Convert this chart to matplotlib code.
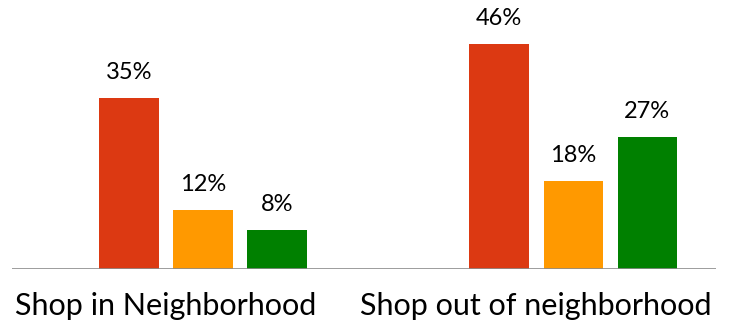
import matplotlib.pyplot as plt
import numpy as np

plt.rcParams['font.family'] = ['Lato', 'DejaVu Sans']

categories = ["Shop in Neighborhood", "Shop out of neighborhood"]
series_colors = ["#DC3912", "#FF9900", "#008000"]
# one list per bar colour, values in percent for each category
red_vals = [35, 46]
orange_vals = [12, 18]
green_vals = [8, 27]
series = [red_vals, orange_vals, green_vals]

fig = plt.figure(figsize=(7.29, 3.30), dpi=100)
ax = fig.add_axes([12 / 729, 61 / 330, 704 / 729, 269 / 330])

x = np.arange(len(categories))
step = 0.2
width = 0.16
for i, (vals, col) in enumerate(zip(series, series_colors)):
    xs = x + (i - 1) * step
    bars = ax.bar(xs, vals, width=width, color=col, zorder=2)
    for b, v in zip(bars, vals):
        ax.annotate(f"{v}%", (b.get_x() + b.get_width() / 2, v),
                    xytext=(0, 11), textcoords="offset points",
                    ha="center", va="bottom", fontsize=17)

ax.set_xlim(-0.516, 1.386)
ax.set_ylim(0, 55.1)
ax.axhline(0, color="#8c8c8c", lw=1.2, zorder=3)

for xi, name in zip(x, categories):
    ax.text(xi - 0.1, -7.6, name, ha="center", va="center", fontsize=22)

ax.axis("off")
fig.savefig("out.png", dpi=100)
